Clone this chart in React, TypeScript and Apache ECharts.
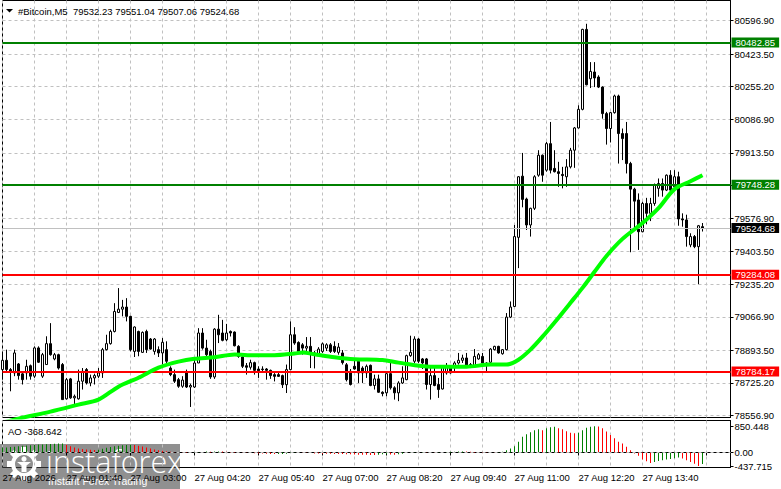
import React, { useEffect, useRef } from "react";
import * as echarts from "echarts";

const SYMBOL_TITLE = "#Bitcoin,M5  79532.23 79551.04 79507.06 79524.68";
const AO_TITLE = "AO -368.642";
const BRAND = "instaforex";
const BRAND_SUB = "Instant Forex Trading";

const TIME_TICK_LABELS = [
  "27 Aug 2026", "27 Aug 01:40", "27 Aug 03:00", "27 Aug 04:20", "27 Aug 05:40", "27 Aug 07:00",
  "27 Aug 08:20", "27 Aug 09:40", "27 Aug 11:00", "27 Aug 12:20", "27 Aug 13:40",
];

const PRICE_TICKS = [
  78556.9, 78725.2, 78893.5, 79066.9, 79235.2, 79403.5, 79576.9, 79745.2, 79913.5, 80086.9,
  80255.2, 80423.5, 80596.9,
];

const AO_TICKS = [850.448, 0, -437.715];
const AO_TICK_LABELS = ["850.448", "0.00", "-437.715"];

const RESISTANCE_LEVELS = [80482.85, 79748.28];
const SUPPORT_LEVELS = [79284.08, 78784.17];

// [open, close, low, high] per 5-minute bar, starting 27 Aug 00:20
const CANDLES: number[][] = [
  [78794, 78842, 78742, 78880], [78842, 78794, 78777, 78897], [78794, 78785, 78682, 78802], [78777, 78880, 78760, 78897],
  [78823, 78763, 78742, 78828], [78772, 78742, 78717, 78777], [78777, 78811, 78742, 78845], [78814, 78760, 78742, 78820],
  [78760, 78906, 78751, 78914], [78906, 78832, 78828, 78914], [78760, 78871, 78751, 78880], [78820, 78928, 78820, 78966],
  [78928, 78871, 78866, 79034], [78849, 78871, 78842, 78880], [78871, 78802, 78794, 78876], [78820, 78639, 78639, 78828],
  [78643, 78742, 78639, 78751], [78746, 78648, 78643, 78751], [78648, 78656, 78614, 78665], [78643, 78734, 78639, 78794],
  [78734, 78785, 78691, 78802], [78794, 78725, 78717, 78802], [78725, 78751, 78708, 78768], [78751, 78763, 78717, 78773],
  [78760, 78777, 78751, 78802], [78777, 78897, 78751, 78906], [78897, 78928, 78893, 78974], [78928, 78991, 78923, 79000],
  [78991, 79094, 78986, 79137], [79089, 79106, 79086, 79215], [79106, 79117, 79069, 79154], [79117, 79069, 79043, 79163],
  [79069, 78897, 78888, 79072], [78888, 79014, 78859, 79017], [78991, 78888, 78863, 78995], [78883, 78986, 78880, 78991],
  [78991, 78897, 78880, 79000], [78952, 78900, 78897, 78957], [78888, 78952, 78871, 78957], [78897, 78880, 78859, 78914],
  [78880, 78935, 78820, 78957], [78897, 78837, 78828, 78940], [78802, 78768, 78760, 78811], [78768, 78734, 78725, 78794],
  [78742, 78708, 78700, 78751], [78708, 78740, 78700, 78760], [78780, 78704, 78699, 78794], [78704, 78712, 78601, 78721],
  [78704, 78828, 78699, 78845], [78828, 78983, 78828, 79008], [78983, 78905, 78897, 79008], [78905, 78871, 78862, 78948],
  [78888, 78756, 78746, 78897], [78756, 79003, 78746, 79008], [79003, 78974, 78931, 79077], [78983, 78945, 78940, 79051],
  [78948, 78983, 78940, 79030], [78991, 78983, 78965, 78996], [78988, 78917, 78914, 78991], [78914, 78862, 78855, 78920],
  [78859, 78811, 78802, 78871], [78814, 78806, 78768, 78828], [78806, 78830, 78794, 78845], [78830, 78790, 78768, 78835],
  [78797, 78788, 78751, 78811], [78797, 78794, 78785, 78811], [78797, 78790, 78742, 78802], [78790, 78763, 78746, 78794],
  [78768, 78759, 78733, 78776], [78768, 78759, 78756, 78780], [78763, 78716, 78699, 78768], [78716, 78794, 78673, 78820],
  [78794, 78974, 78790, 79043], [78974, 78931, 78922, 79013], [78934, 78888, 78880, 78940], [78922, 78905, 78871, 78931],
  [78905, 78914, 78880, 78962], [78914, 78880, 78802, 78962], [78880, 78870, 78800, 78890], [78875, 78900, 78860, 78910],
  [78888, 78927, 78880, 78934], [78905, 78922, 78890, 78930], [78922, 78888, 78880, 78931], [78914, 78888, 78880, 78940],
  [78883, 78910, 78871, 78931], [78880, 78830, 78820, 78895], [78819, 78742, 78733, 78828], [78785, 78717, 78712, 78797],
  [78811, 78797, 78794, 78846], [78837, 78777, 78725, 78846], [78802, 78777, 78725, 78811], [78777, 78811, 78751, 78820],
  [78816, 78712, 78708, 78820], [78712, 78746, 78691, 78768], [78746, 78677, 78674, 78768], [78677, 78670, 78656, 78682],
  [78674, 78773, 78656, 78777], [78773, 78700, 78691, 78828], [78700, 78674, 78639, 78708], [78674, 78725, 78631, 78734],
  [78725, 78751, 78720, 78811], [78742, 78866, 78739, 78871], [78866, 78883, 78860, 78969], [78837, 78952, 78828, 78966],
  [78952, 78837, 78828, 78957], [78849, 78828, 78797, 78854], [78849, 78717, 78691, 78854], [78717, 78763, 78639, 78811],
  [78763, 78712, 78708, 78811], [78717, 78691, 78648, 78751], [78694, 78808, 78691, 78811], [78777, 78811, 78768, 78828],
  [78802, 78777, 78773, 78811], [78811, 78828, 78777, 78837], [78828, 78842, 78820, 78880], [78842, 78854, 78828, 78871],
  [78854, 78811, 78802, 78880], [78820, 78811, 78802, 78828], [78811, 78862, 78808, 78900], [78849, 78871, 78845, 78880],
  [78862, 78828, 78811, 78880], [78816, 78828, 78780, 78832], [78832, 78900, 78828, 78905], [78897, 78914, 78893, 78917],
  [78914, 78880, 78876, 78917], [78876, 78897, 78871, 78900], [78897, 79065, 78893, 79086], [79065, 79117, 79060, 79146],
  [79120, 79481, 79117, 79541], [79477, 79790, 79318, 79793], [79793, 79673, 79632, 79913], [79675, 79541, 79515, 79682],
  [79541, 79627, 79481, 79630], [79627, 79790, 79618, 79798], [79798, 79901, 79790, 79927], [79901, 79798, 79764, 79905],
  [79824, 79961, 79816, 79970], [79961, 79824, 79807, 80073], [79833, 79816, 79812, 79927], [79816, 79807, 79738, 79867],
  [79802, 79796, 79730, 79841], [79790, 79841, 79738, 79881], [79841, 79927, 79833, 79939], [79927, 80042, 79836, 80047],
  [80042, 80138, 80039, 80159], [80138, 80551, 80133, 80554], [80551, 80265, 80262, 80580], [80296, 80334, 80248, 80382],
  [80331, 80300, 80253, 80382], [80305, 80253, 80248, 80314], [80253, 80116, 80090, 80257], [80116, 80039, 79956, 80125],
  [80039, 80121, 79967, 80125], [80121, 80207, 80116, 80214], [80207, 80013, 79858, 80214], [80013, 79987, 79876, 80039],
  [80013, 79858, 79807, 80073], [79858, 79726, 79400, 79867], [79726, 79664, 79515, 79733], [79670, 79506, 79412, 79704],
  [79506, 79652, 79503, 79661], [79652, 79601, 79544, 79681], [79601, 79652, 79561, 79681], [79652, 79747, 79640, 79755],
  [79730, 79755, 79687, 79781], [79755, 79721, 79687, 79781], [79721, 79798, 79716, 79802], [79798, 79721, 79716, 79824],
  [79738, 79790, 79730, 79824], [79790, 79572, 79537, 79816], [79572, 79567, 79532, 79601], [79567, 79481, 79429, 79594],
  [79438, 79481, 79426, 79498], [79481, 79429, 79421, 79489], [79429, 79537, 79235, 79541], [79532.23, 79524.68, 79507.06, 79551.04],
];

// moving average, read at [bar index, price]
const MA_POINTS: number[][] = [
  [0, 78520], [4, 78541], [12, 78577], [19, 78613], [24, 78639], [29, 78706], [34, 78752], [39, 78804],
  [44, 78835], [48, 78850], [53, 78858], [58, 78872], [63, 78868], [68, 78868], [73, 78877], [75, 78882],
  [78, 78873], [83, 78858], [88, 78848], [95, 78843], [99, 78830], [107, 78809], [116, 78809], [122, 78820],
  [126, 78820], [129, 78845], [132, 78897], [135, 78964], [139, 79062], [142, 79139], [145, 79216],
  [148, 79299], [151, 79381], [155, 79469], [160, 79551], [164, 79628], [168, 79726], [172, 79767], [175, 79798],
];

// Awesome Oscillator per bar
const AO_VALUES = [
  150, 160, 175, 185, 200, 215, 225, 235, 245, 255,
  262, 270, 276, 282, 288, 292, 250, 200, 160, 130,
  110, 95, 85, 78, 90, 120, 150, 175, 200, 220,
  235, 245, 250, 240, 220, 190, 160, 130, 100, 75,
  55, 40, 25, 12, 0, -12, -20, -15, -8, 5,
  20, 30, 25, 30, 35, 30, 25, 20, 15, 10,
  5, -10, -20, -25, -30, -35, -40, -45, -50, -48,
  -45, -40, -20, -10, -5, -8, -12, -20, -30, -35,
  -38, -40, -42, -45, -48, -50, -55, -60, -65, -70,
  -72, -75, -78, -80, -75, -60, -55, -65, -70, -60,
  -40, -20, -10, 5, 15, 18, 12, 10, 8, 10,
  15, 20, 22, 25, 30, 35, 30, 25, 20, 18,
  15, 12, 10, 8, 12,
  22, 75, 129, 205, 345, 506, 592, 657, 722, 754,
  722, 786, 818, 829, 786, 754, 689, 635, 625,
  635, 722, 797, 829, 850.448, 840,
  786, 676, 567, 458, 349, 294, 185, 76, -33, -109, -229, -283, -338,
  -305, -273, -251, -229, -207, -185, -164,
  -196, -251, -305, -360, -437.715, -368.642,
];

const SLOT_COUNT = 183;

const FONT = "'Liberation Sans', Arial, sans-serif";

function buildOption() {
  const categories: string[] = [];
  for (let i = 0; i < SLOT_COUNT; i++) {
    const m = 20 + i * 5;
    const hh = String(Math.floor(m / 60)).padStart(2, "0");
    const mm = String(m % 60).padStart(2, "0");
    categories.push(`${hh}:${mm}`);
  }
  const lastClose = CANDLES[CANDLES.length - 1][1];
  const allLevels = [...RESISTANCE_LEVELS, ...SUPPORT_LEVELS, lastClose];
  const priceLabelValues = PRICE_TICKS.filter((v) => !allLevels.some((l) => Math.abs(l - v) < 20));

  const aoData = AO_VALUES.map((v, i) => ({
    value: v,
    itemStyle: { color: i > 0 && v < AO_VALUES[i - 1] ? "#ff0000" : "#008000" },
  }));

  const dash = { color: "#c0c0c0", type: [3, 3], width: 1 };
  const axisFont = { fontSize: 9.5, color: "#000", fontFamily: FONT };

  const gearTeeth = [] as any[];
  for (let k = 0; k < 8; k++) {
    gearTeeth.push({
      type: "rect",
      x: 24,
      y: 464,
      rotation: (k * Math.PI) / 4,
      shape: { x: -3, y: -17, width: 6, height: 6 },
      style: { fill: "#fff" },
    });
  }

  return {
    animation: false,
    backgroundColor: "#fff",
    textStyle: { fontFamily: FONT },
    grid: [
      { left: 2.5, right: 50.5, top: 0.5, bottom: 71.5, show: true, borderColor: "#000", borderWidth: 1, backgroundColor: "#fff", containLabel: false, outerBoundsMode: "none" },
      { left: 2.5, right: 50.5, top: 420.5, bottom: 21.5, show: true, borderColor: "#000", borderWidth: 1, backgroundColor: "#fff", containLabel: false, outerBoundsMode: "none" },
    ],
    xAxis: [
      {
        type: "category", gridIndex: 0, data: categories, boundaryGap: false,
        axisLine: { show: false }, axisTick: { show: false }, axisLabel: { show: false },
        splitLine: { show: true, interval: 7, lineStyle: dash },
      },
      {
        type: "category", gridIndex: 1, data: categories, boundaryGap: false,
        axisLine: { show: true, lineStyle: { color: "#000" } },
        axisTick: { show: true, interval: 15, length: 3, lineStyle: { color: "#000" } },
        axisLabel: {
          show: true, interval: 15, align: "left", margin: 5, ...axisFont,
          formatter: (_v: string, i: number) => TIME_TICK_LABELS[i / 16] ?? "",
        },
        splitLine: { show: true, interval: 7, lineStyle: dash },
      },
    ],
    yAxis: [
      {
        type: "value", gridIndex: 0, position: "right", min: 78546.6, max: 80700.2,
        axisLine: { show: true, lineStyle: { color: "#000" } },
        axisTick: { show: true, length: 3, customValues: PRICE_TICKS, lineStyle: { color: "#000" } },
        axisLabel: { customValues: priceLabelValues, margin: 4, ...axisFont, formatter: (v: number) => v.toFixed(2) },
        splitLine: { show: true, lineStyle: dash },
      },
      {
        type: "value", gridIndex: 1, position: "right", min: -484.5, max: 1033.6,
        axisLine: { show: true, lineStyle: { color: "#000" } },
        axisTick: { show: true, length: 3, customValues: AO_TICKS, lineStyle: { color: "#000" } },
        axisLabel: {
          customValues: AO_TICKS, margin: 4, ...axisFont,
          formatter: (v: number) => {
            let best = 0;
            AO_TICKS.forEach((t, k) => { if (Math.abs(t - v) < Math.abs(AO_TICKS[best] - v)) best = k; });
            return AO_TICK_LABELS[best];
          },
        },
        splitLine: { show: false },
      },
    ],
    series: [
      {
        type: "candlestick", xAxisIndex: 0, yAxisIndex: 0, data: CANDLES, barWidth: 2, barMaxWidth: 2, z: 3,
        itemStyle: { color: "#fff", color0: "#000", borderColor: "#000", borderColor0: "#000", borderWidth: 1 },
        markLine: {
          silent: true, symbol: ["none", "none"], animation: false,
          label: {
            show: true, position: "end", distance: 1, color: "#fff", fontSize: 9.5, fontFamily: FONT,
            padding: [1, 4, 0, 4], lineHeight: 9,
            formatter: (p: any) => Number(p.value).toFixed(2),
          },
          data: [
            { yAxis: lastClose, lineStyle: { color: "#c0c0c0", width: 1, type: "solid" }, label: { backgroundColor: "#000" } },
            ...RESISTANCE_LEVELS.map((v) => ({ yAxis: v, lineStyle: { color: "#008000", width: 2, type: "solid" }, label: { backgroundColor: "#008000" } })),
            ...SUPPORT_LEVELS.map((v) => ({ yAxis: v, lineStyle: { color: "#ff0000", width: 2, type: "solid" }, label: { backgroundColor: "#ff0000" } })),
          ],
        },
      },
      {
        type: "line", xAxisIndex: 0, yAxisIndex: 0, data: MA_POINTS, symbol: "none", smooth: 0.3, z: 5, silent: true,
        lineStyle: { color: "#00ff00", width: 4 },
      },
      {
        type: "bar", xAxisIndex: 1, yAxisIndex: 1, data: aoData, barWidth: 1, z: 3, silent: true,
        markLine: {
          silent: true, symbol: ["none", "none"], label: { show: false },
          lineStyle: dash, data: [{ yAxis: 0 }],
        },
      },
    ],
    graphic: [
      { type: "polygon", shape: { points: [[6, 9], [13, 9], [9.5, 12.5]] }, style: { fill: "#000" }, z: 100 },
      { type: "text", z: 100, style: { x: 18, y: 11, text: SYMBOL_TITLE, fill: "#000", fontSize: 9.5, fontFamily: FONT, verticalAlign: "middle" } },
      { type: "text", z: 100, style: { x: 8, y: 431, text: AO_TITLE, fill: "#000", fontSize: 9.5, fontFamily: FONT, verticalAlign: "middle" } },
      {
        type: "group", z: 200,
        children: [
          { type: "rect", shape: { x: 0, y: 444, width: 180, height: 45 }, style: { fill: "rgba(70,70,70,0.6)" } },
          ...gearTeeth,
          { type: "ring", shape: { cx: 24, cy: 464, r: 13, r0: 9 }, style: { fill: "#fff" } },
          { type: "circle", shape: { cx: 24, cy: 459, r: 2.6 }, style: { fill: "#fff" } },
          { type: "polygon", shape: { points: [[17, 462], [31, 462], [26.5, 465.5], [26.5, 472], [21.5, 472], [21.5, 465.5]] }, style: { fill: "#fff" } },
          { type: "text", style: { x: 46, y: 461, text: BRAND, fill: "#fff", fontSize: 30.5, fontWeight: 300, fontFamily: "'Open Sans', sans-serif", verticalAlign: "middle" } },
          { type: "text", style: { x: 48, y: 481, text: BRAND_SUB, fill: "#fff", fontSize: 10.5, fontFamily: FONT, verticalAlign: "middle" } },
        ],
      },
    ],
  };
}

export default function App() {
  const ref = useRef<HTMLDivElement>(null);
  useEffect(() => {
    document.body.style.margin = "0";
    if (!ref.current) return;
    const chart = echarts.init(ref.current, undefined, { renderer: "svg" });
    chart.setOption(buildOption() as any);
    return () => chart.dispose();
  }, []);
  return <div ref={ref} style={{ width: 781, height: 489 }} />;
}
